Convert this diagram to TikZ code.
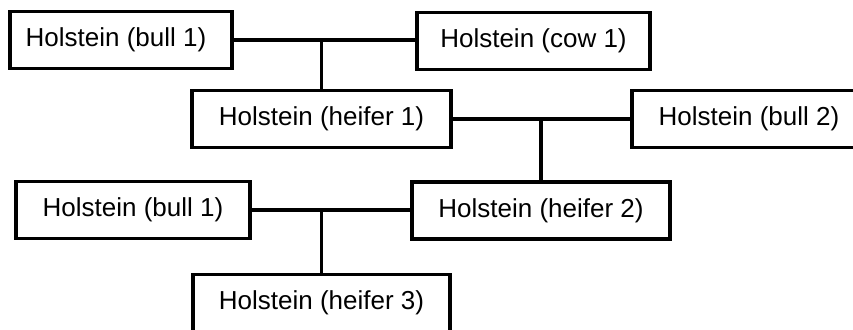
\documentclass[tikz,border=0pt]{standalone}
\usepackage{fontspec}
\setmainfont{Liberation Sans}
\begin{document}
\begin{tikzpicture}[x=1pt,y=1pt,
  animal/.style={draw, line width=3.3pt, fill=white, minimum height=57pt, inner sep=0pt,
    font=\fontsize{26}{30}\selectfont},
  link/.style={line width=3.3pt}]
\useasboundingbox (0,0) rectangle (853,329);
\node[animal, minimum width=222pt] (b1) at (121,289) {Holstein (bull 1)\kern10pt};
\node[animal, minimum width=233pt] (c1) at (533.5,288) {Holstein (cow 1)};
\node[animal, minimum width=259pt] (h1) at (321.5,210) {Holstein (heifer 1)};
\node[animal, minimum width=234pt] (b2) at (749,210) {Holstein (bull 2)};
\node[animal, minimum width=234pt] (b1b) at (133,119) {Holstein (bull 1)};
\node[animal, minimum width=258pt] (h2) at (541,118.5) {Holstein (heifer 2)};
\node[animal, minimum width=257pt] (h3) at (321.5,26) {Holstein (heifer 3)};
\draw[link] (b1.east) -- (c1.west |- b1.east);
\draw[link] (h1.north) -- (h1.north |- b1.east);
\draw[link] (h1.east) -- (b2.west);
\draw[link] (h2.north) -- (h2.north |- h1.east);
\draw[link] (b1b.east) -- (h2.west |- b1b.east);
\draw[link] (h3.north) -- (h3.north |- b1b.east);
\end{tikzpicture}
\end{document}
